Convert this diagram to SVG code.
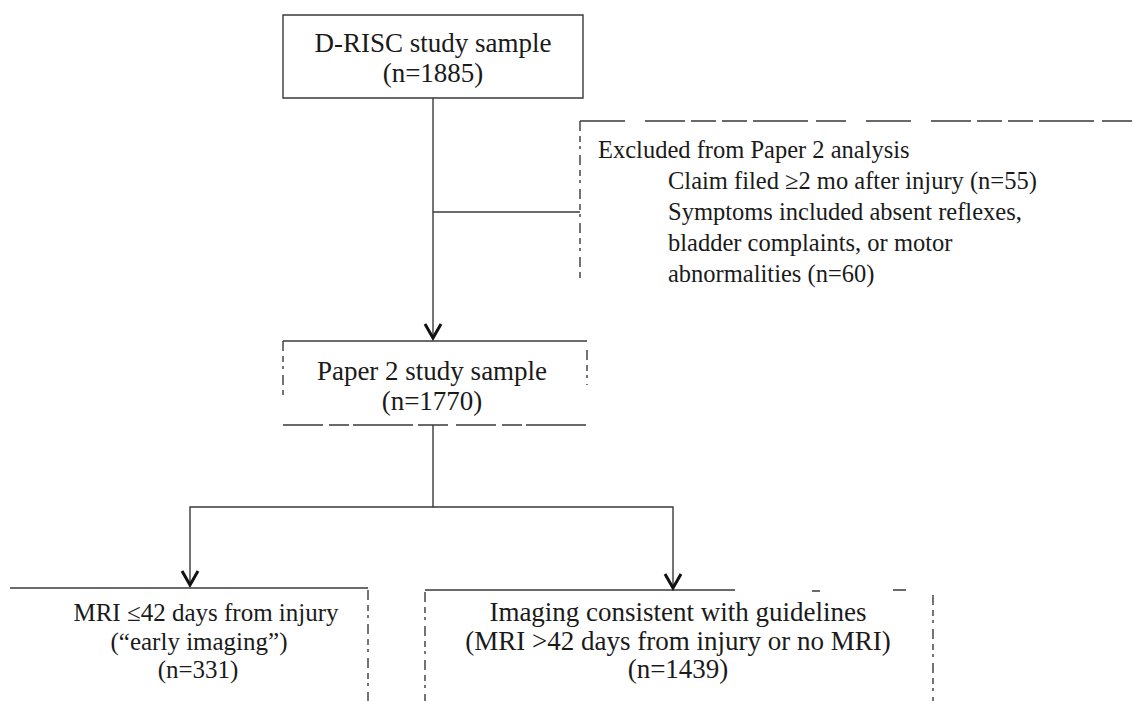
<svg xmlns="http://www.w3.org/2000/svg" width="1134" height="701" viewBox="0 0 1134 701">
<style>
  text { font-family: "Liberation Serif", "Times New Roman", serif; font-size: 27px; fill: #1a1a1a; }
  .c { text-anchor: middle; }
  .ex { font-size: 24.5px; }
  .sm { font-size: 25px; }
  .edge { fill: none; stroke: #3a3a3a; stroke-width: 1.4; }
  .dash1 { stroke-dasharray: 40 6 20 4 60 5 30 8; }
  .dash2 { stroke-dasharray: 10 5 6 4 3 6; }
  .dash3 { stroke-dasharray: 45 20 40 6 25 6 25 6 55 8 30 20; }
  .conn { fill: none; stroke: #3a3a3a; stroke-width: 1.4; }
</style>
<defs>
  <marker id="v" markerWidth="20" markerHeight="20" refX="16" refY="10" orient="auto" markerUnits="userSpaceOnUse">
    <path d="M2,2 L16,10 L2,18" fill="none" stroke="#111" stroke-width="3"/>
  </marker>
</defs>

<g id="node-drisc">
  <path class="edge" d="M283,15 H583 V98 H283 Z"/>
  <text class="c" x="433" y="52">D-RISC study sample</text>
  <text class="c" x="433" y="82">(n=1885)</text>
</g>

<g id="node-excluded">
  <path class="edge dash3" d="M580,121 H1134"/>
  <path class="edge dash2" d="M580,121 V282"/>
  <text class="ex" x="598" y="158">Excluded from Paper 2 analysis</text>
  <text class="ex" x="668" y="189">Claim filed ≥2 mo after injury (n=55)</text>
  <text class="ex" x="668" y="220">Symptoms included absent reflexes,</text>
  <text class="ex" x="668" y="251">bladder complaints, or motor</text>
  <text class="ex" x="668" y="282">abnormalities (n=60)</text>
</g>

<g id="node-paper2">
  <path class="edge" d="M283,341 H587"/>
  <path class="edge dash2" d="M283,341 V395"/>
  <path class="edge dash2" d="M587,350 V385"/>
  <path class="edge dash1" d="M283,425 H587"/>
  <text class="c" x="432" y="380">Paper 2 study sample</text>
  <text class="c" x="432" y="410">(n=1770)</text>
</g>

<g id="node-early">
  <path class="edge" d="M10,588 H368"/>
  <path class="edge dash2" d="M368,590 V701"/>
  <text class="c sm" x="206" y="621">MRI ≤42 days from injury</text>
  <text class="c sm" x="199" y="650">(“early imaging”)</text>
  <text class="c sm" x="198" y="678">(n=331)</text>
</g>

<g id="node-guidelines">
  <path class="edge" d="M425,590 H735"/>
  <path class="edge" d="M812,591 H820 M893,590 H906"/>
  <path class="edge dash2" d="M425,592 V701"/>
  <path class="edge dash2" d="M933,595 V701"/>
  <text class="c" x="678" y="621">Imaging consistent with guidelines</text>
  <text class="c" x="678" y="650">(MRI &gt;42 days from injury or no MRI)</text>
  <text class="c" x="678" y="678">(n=1439)</text>
</g>

<g id="connectors">
  <path class="conn" d="M433,98 V338" marker-end="url(#v)"/>
  <path class="conn" d="M433,212 H580"/>
  <path class="conn" d="M433,425 V507 H190 V585" marker-end="url(#v)"/>
  <path class="conn" d="M433,507 H673 V588" marker-end="url(#v)"/>
</g>
</svg>
